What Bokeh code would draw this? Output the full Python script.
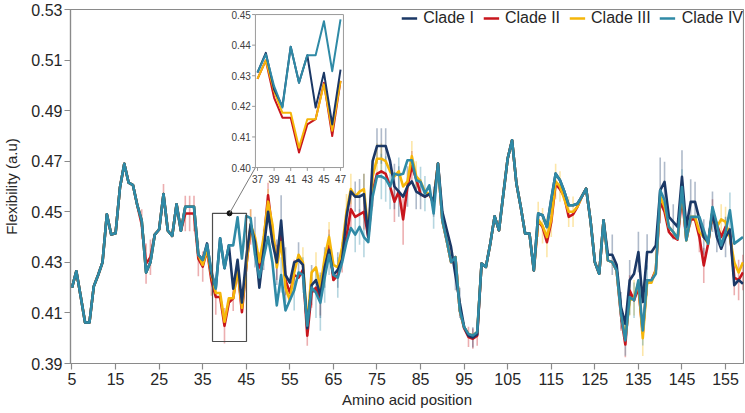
from bokeh.plotting import figure
from bokeh.models import Range1d, FixedTicker, PrintfTickFormatter, Legend, LegendItem
from bokeh.embed import file_html
from bokeh.resources import INLINE
from bokeh.core.properties import value

positions = list(range(5, 160))

clade_iv = [
    0.4200, 0.4265, 0.4165, 0.4062, 0.4062, 0.4205, 0.4250, 0.4300, 0.4490, 0.4410,  # 5-14
    0.4415, 0.4595, 0.4690, 0.4615, 0.4605, 0.4525, 0.4465, 0.4260, 0.4300, 0.4410,  # 15-24
    0.4430, 0.4570, 0.4425, 0.4405, 0.4530, 0.4425, 0.4520, 0.4520, 0.4520, 0.4330,  # 25-34
    0.4310, 0.4370, 0.4266, 0.4196, 0.4395, 0.4277, 0.4367, 0.4367, 0.4478, 0.4315,  # 35-44
    0.4484, 0.4475, 0.4330, 0.4240, 0.4320, 0.4400, 0.4300, 0.4130, 0.4250, 0.4110,  # 45-54
    0.4150, 0.4190, 0.4260, 0.4250, 0.4050, 0.4200, 0.4180, 0.4140, 0.4240, 0.4330,  # 55-64
    0.4250, 0.4240, 0.4300, 0.4380, 0.4436, 0.4410, 0.4440, 0.4400, 0.4380, 0.4560,  # 65-74
    0.4640, 0.4640, 0.4630, 0.4600, 0.4651, 0.4645, 0.4650, 0.4704, 0.4704, 0.4625,  # 75-84
    0.4618, 0.4572, 0.4605, 0.4493, 0.4691, 0.4466, 0.4387, 0.4301, 0.4321, 0.4110,  # 85-94
    0.4044, 0.4017, 0.4011, 0.4024, 0.4295, 0.4282, 0.4374, 0.4482, 0.4427, 0.4570,  # 95-104
    0.4711, 0.4783, 0.4612, 0.4519, 0.4414, 0.4414, 0.4268, 0.4493, 0.4486, 0.4440,  # 105-114
    0.4550, 0.4651, 0.4625, 0.4580, 0.4526, 0.4526, 0.4532, 0.4560, 0.4592, 0.4466,  # 115-124
    0.4301, 0.4255, 0.4466, 0.4308, 0.4301, 0.4268, 0.4097, 0.3991, 0.4163, 0.4150,  # 125-134
    0.4229, 0.4031, 0.4229, 0.4229, 0.4255, 0.4585, 0.4546, 0.4440, 0.4420, 0.4394,  # 135-144
    0.4598, 0.4387, 0.4480, 0.4480, 0.4480, 0.4427, 0.4374, 0.4519, 0.4453, 0.4367,  # 145-154
    0.4420, 0.4506, 0.4374, 0.4387, 0.4400,                                          # 155-159
]

clade_i = [
    0.4200, 0.4265, 0.4165, 0.4062, 0.4062, 0.4205, 0.4250, 0.4300, 0.4490, 0.4410,
    0.4415, 0.4595, 0.4690, 0.4615, 0.4605, 0.4525, 0.4465, 0.4260, 0.4300, 0.4410,
    0.4430, 0.4570, 0.4425, 0.4405, 0.4530, 0.4425, 0.4520, 0.4520, 0.4520, 0.4330,
    0.4310, 0.4375, 0.4255, 0.4200, 0.4395, 0.4277, 0.4367, 0.4196, 0.4310, 0.4141,
    0.4320, 0.4450, 0.4380, 0.4200, 0.4350, 0.4500, 0.4380, 0.4300, 0.4465, 0.4250,
    0.4220, 0.4300, 0.4310, 0.4290, 0.4040, 0.4210, 0.4230, 0.4170, 0.4280, 0.4350,
    0.4250, 0.4270, 0.4310, 0.4480, 0.4580, 0.4560, 0.4560, 0.4570, 0.4400, 0.4700,
    0.4760, 0.4760, 0.4760, 0.4700, 0.4600, 0.4580, 0.4560, 0.4600, 0.4620, 0.4580,
    0.4570, 0.4560, 0.4570, 0.4540, 0.4691, 0.4500, 0.4430, 0.4360, 0.4250, 0.4140,
    0.4044, 0.4010, 0.4003, 0.4015, 0.4295, 0.4282, 0.4374, 0.4482, 0.4427, 0.4570,
    0.4711, 0.4783, 0.4612, 0.4519, 0.4414, 0.4414, 0.4268, 0.4493, 0.4486, 0.4440,
    0.4550, 0.4651, 0.4625, 0.4580, 0.4526, 0.4526, 0.4532, 0.4560, 0.4592, 0.4466,
    0.4301, 0.4255, 0.4466, 0.4330, 0.4330, 0.4290, 0.4123, 0.4057, 0.4229, 0.4255,
    0.4341, 0.4143, 0.4341, 0.4341, 0.4367, 0.4585, 0.4618, 0.4480, 0.4460, 0.4440,
    0.4638, 0.4440, 0.4539, 0.4539, 0.4470, 0.4400, 0.4380, 0.4500, 0.4400, 0.4354,
    0.4400, 0.4430, 0.4210, 0.4230, 0.4215,
]

clade_ii = [
    0.4200, 0.4265, 0.4165, 0.4062, 0.4062, 0.4205, 0.4250, 0.4300, 0.4490, 0.4410,
    0.4415, 0.4595, 0.4690, 0.4615, 0.4605, 0.4525, 0.4450, 0.4295, 0.4320, 0.4410,
    0.4430, 0.4570, 0.4425, 0.4405, 0.4530, 0.4425, 0.4493, 0.4493, 0.4493, 0.4315,
    0.4283, 0.4348, 0.4228, 0.4163, 0.4163, 0.4049, 0.4141, 0.4158, 0.4277, 0.4103,
    0.4283, 0.4440, 0.4370, 0.4280, 0.4380, 0.4565, 0.4420, 0.4300, 0.4430, 0.4230,
    0.4180, 0.4250, 0.4240, 0.4270, 0.4010, 0.4180, 0.4200, 0.4150, 0.4300, 0.4370,
    0.4230, 0.4250, 0.4320, 0.4400, 0.4510, 0.4480, 0.4490, 0.4500, 0.4400, 0.4580,
    0.4650, 0.4660, 0.4650, 0.4600, 0.4540, 0.4580, 0.4470, 0.4600, 0.4680, 0.4630,
    0.4570, 0.4560, 0.4570, 0.4530, 0.4691, 0.4466, 0.4387, 0.4301, 0.4321, 0.4110,
    0.4040, 0.4005, 0.3998, 0.4010, 0.4295, 0.4282, 0.4374, 0.4482, 0.4427, 0.4570,
    0.4711, 0.4783, 0.4612, 0.4519, 0.4414, 0.4414, 0.4268, 0.4465, 0.4440, 0.4380,
    0.4460, 0.4610, 0.4590, 0.4560, 0.4480, 0.4490, 0.4520, 0.4560, 0.4592, 0.4466,
    0.4301, 0.4255, 0.4466, 0.4308, 0.4301, 0.4268, 0.4090, 0.3975, 0.4189, 0.4150,
    0.4200, 0.4020, 0.4229, 0.4229, 0.4270, 0.4540, 0.4500, 0.4420, 0.4400, 0.4390,
    0.4560, 0.4390, 0.4470, 0.4470, 0.4400, 0.4288, 0.4374, 0.4500, 0.4450, 0.4400,
    0.4440, 0.4420, 0.4240, 0.4230, 0.4260,
]

clade_iii = [
    0.4200, 0.4265, 0.4165, 0.4062, 0.4062, 0.4205, 0.4250, 0.4300, 0.4490, 0.4410,
    0.4415, 0.4595, 0.4690, 0.4615, 0.4605, 0.4525, 0.4465, 0.4260, 0.4300, 0.4410,
    0.4430, 0.4570, 0.4425, 0.4405, 0.4530, 0.4425, 0.4520, 0.4520, 0.4520, 0.4330,
    0.4290, 0.4350, 0.4250, 0.4179, 0.4179, 0.4065, 0.4158, 0.4158, 0.4272, 0.4120,
    0.4283, 0.4450, 0.4400, 0.4300, 0.4400, 0.4540, 0.4450, 0.4280, 0.4380, 0.4200,
    0.4150, 0.4260, 0.4330, 0.4300, 0.4050, 0.4260, 0.4280, 0.4200, 0.4320, 0.4400,
    0.4290, 0.4280, 0.4360, 0.4500, 0.4590, 0.4560, 0.4580, 0.4590, 0.4420, 0.4640,
    0.4710, 0.4710, 0.4700, 0.4660, 0.4640, 0.4660, 0.4600, 0.4620, 0.4720, 0.4640,
    0.4620, 0.4580, 0.4570, 0.4540, 0.4691, 0.4466, 0.4387, 0.4301, 0.4321, 0.4110,
    0.4044, 0.4017, 0.4011, 0.4024, 0.4295, 0.4282, 0.4374, 0.4482, 0.4427, 0.4570,
    0.4711, 0.4783, 0.4612, 0.4519, 0.4414, 0.4414, 0.4268, 0.4470, 0.4445, 0.4400,
    0.4470, 0.4620, 0.4600, 0.4550, 0.4500, 0.4500, 0.4520, 0.4560, 0.4592, 0.4466,
    0.4301, 0.4255, 0.4466, 0.4308, 0.4301, 0.4268, 0.4100, 0.4000, 0.4150, 0.4160,
    0.4220, 0.4000, 0.4220, 0.4220, 0.4270, 0.4560, 0.4520, 0.4440, 0.4420, 0.4394,
    0.4598, 0.4387, 0.4480, 0.4480, 0.4420, 0.4400, 0.4374, 0.4500, 0.4440, 0.4470,
    0.4460, 0.4400, 0.4300, 0.4260, 0.4300,
]

# error bars: positions and half-lengths (sparse)
err_i_pos = [47, 49, 52, 53, 54, 57, 60, 62, 63, 66, 70, 71, 72, 75, 76, 77, 79, 80, 82, 84,
             85, 88, 93, 94, 97, 129, 131, 133, 135, 137, 140, 141, 143, 145, 147, 148, 150, 152, 153, 155]
err_i_half = [0.010, 0.008, 0.009, 0.010, 0.011, 0.007, 0.008, 0.009, 0.008, 0.007, 0.006, 0.007,
              0.008, 0.007, 0.007, 0.007, 0.009, 0.010, 0.008, 0.007, 0.006, 0.006, 0.006, 0.006,
              0.004, 0.008, 0.006, 0.008, 0.008, 0.007, 0.013, 0.008, 0.007, 0.0105, 0.009, 0.008,
              0.007, 0.008, 0.006, 0.008]
err_ii_pos = [21, 22, 23, 26, 31, 32, 33, 34, 35, 37, 38, 40, 42, 46, 48, 50, 52, 54, 56, 59, 60,
              62, 64, 67, 69, 72, 74, 79, 81, 83, 96, 97, 98, 131, 132, 133, 149, 150, 152, 157, 158, 159]
err_ii_half = [0.006, 0.008, 0.007, 0.004, 0.007, 0.007, 0.007, 0.007, 0.006, 0.006, 0.007, 0.007,
               0.005, 0.007, 0.006, 0.005, 0.007, 0.006, 0.006, 0.004, 0.006, 0.006, 0.006, 0.006,
               0.008, 0.007, 0.006, 0.008, 0.010, 0.006, 0.004, 0.004, 0.004, 0.006, 0.005, 0.006,
               0.006, 0.007, 0.005, 0.007, 0.008, 0.007]
err_iii_pos = [46, 50, 58, 61, 64, 68, 69, 72, 75, 76, 83, 84, 112, 113, 114, 115, 116, 117, 119,
               120, 133, 134, 136, 154, 155]
err_iii_half = [0.006, 0.005, 0.006, 0.006, 0.006, 0.007, 0.006, 0.006, 0.006, 0.006, 0.006, 0.006,
                0.007, 0.007, 0.008, 0.007, 0.007, 0.006, 0.006, 0.006, 0.006, 0.007, 0.007, 0.006, 0.006]
err_iv_pos = [53, 56, 58, 61, 62, 63, 64, 66, 70, 71, 72, 76, 77, 78, 80, 85, 86, 88, 131, 132, 133,
              134, 136, 137, 145, 156]
err_iv_half = [0.007, 0.008, 0.007, 0.010, 0.011, 0.010, 0.008, 0.008, 0.007, 0.007, 0.008, 0.009,
               0.009, 0.009, 0.007, 0.006, 0.007, 0.006, 0.006, 0.006, 0.007, 0.007, 0.006, 0.006,
               0.007, 0.007]

# inset (zoomed view)
inset_positions = [37, 38, 39, 40, 41, 42, 43, 44, 45, 46, 47]
inset_i = [0.4310, 0.4375, 0.4255, 0.4200, 0.4395, 0.4277, 0.4367, 0.4196, 0.4310, 0.4141, 0.4320]
inset_ii = [0.4290, 0.4350, 0.4228, 0.4163, 0.4163, 0.4049, 0.4141, 0.4158, 0.4277, 0.4103, 0.4283]
inset_iii = [0.4290, 0.4350, 0.4250, 0.4179, 0.4179, 0.4065, 0.4158, 0.4158, 0.4272, 0.4120, 0.4283]
inset_iv = [0.4311, 0.4370, 0.4266, 0.4196, 0.4395, 0.4277, 0.4367, 0.4367, 0.4478, 0.4315, 0.4484]
inset_xticks = [37, 39, 41, 43, 45, 47]
inset_yticks = [0.40, 0.41, 0.42, 0.43, 0.44, 0.45]

x_ticks = [5, 15, 25, 35, 45, 55, 65, 75, 85, 95, 105, 115, 125, 135, 145, 155]
y_ticks = [0.39, 0.41, 0.43, 0.45, 0.47, 0.49, 0.51, 0.53]

labels = ["Clade I", "Clade II", "Clade III", "Clade IV"]
colors = {"Clade I": "#1b3866", "Clade II": "#c8161d", "Clade III": "#f5b60a", "Clade IV": "#2f8aa6"}

FONT = "Liberation Sans"
AXIS_GRAY = "#8a8a8a"

p = figure(frame_width=673, frame_height=354,
           x_range=Range1d(4.656, 159.12), y_range=Range1d(0.39, 0.53),
           output_backend="svg", toolbar_location=None,
           min_border_left=70, min_border_right=1, min_border_top=9, min_border_bottom=49)
p.xgrid.visible = False
p.ygrid.visible = False
p.outline_line_color = AXIS_GRAY
p.outline_line_width = 1.2
p.background_fill_color = "white"
p.border_fill_color = "white"

for ax in (p.xaxis[0], p.yaxis[0]):
    ax.axis_line_color = AXIS_GRAY
    ax.axis_line_width = 1.2
    ax.major_tick_line_color = AXIS_GRAY
    ax.major_tick_line_width = 1.2
    ax.major_tick_out = 6
    ax.major_tick_in = 0
    ax.minor_tick_line_color = None
    ax.major_label_text_font = FONT
    ax.major_label_text_font_size = "16px"
    ax.major_label_text_color = "#262626"
    ax.axis_label_text_font = FONT
    ax.axis_label_text_font_size = "15px"
    ax.axis_label_text_font_style = "normal"
    ax.axis_label_text_color = "#262626"

p.xaxis.ticker = FixedTicker(ticks=x_ticks)
p.yaxis.ticker = FixedTicker(ticks=y_ticks)
p.yaxis.formatter = PrintfTickFormatter(format="%.2f")
p.xaxis.axis_label = "Amino acid position"
p.yaxis.axis_label = "Flexibility (a.u)"
p.xaxis.major_label_standoff = 3
p.xaxis.axis_label_standoff = 3
p.yaxis.major_label_standoff = 2
p.yaxis.axis_label_standoff = 8

series = {"Clade I": clade_i, "Clade II": clade_ii, "Clade III": clade_iii, "Clade IV": clade_iv}
errors = {"Clade I": (err_i_pos, err_i_half), "Clade II": (err_ii_pos, err_ii_half),
          "Clade III": (err_iii_pos, err_iii_half), "Clade IV": (err_iv_pos, err_iv_half)}

# error bars first (pale, behind the lines)
for name in ["Clade II", "Clade III", "Clade I", "Clade IV"]:
    epos, ehalf = errors[name]
    centers = [series[name][positions.index(x)] for x in epos]
    p.segment(x0=epos, x1=epos,
              y0=[c - h for c, h in zip(centers, ehalf)],
              y1=[c + h for c, h in zip(centers, ehalf)],
              line_color=colors[name], line_alpha=0.35, line_width=1.6)

renderers = {}
for name in ["Clade II", "Clade III", "Clade I", "Clade IV"]:
    renderers[name] = p.line(positions, series[name], line_color=colors[name], line_width=2.6,
                             line_join="round")

legend = Legend(items=[LegendItem(label=n, renderers=[renderers[n]]) for n in labels],
                orientation="horizontal", location="top_right",
                label_text_font=FONT, label_text_font_size="16px", label_text_color="#262626",
                glyph_width=16, glyph_height=16, label_height=16, label_standoff=6, spacing=9,
                padding=2, margin=0, border_line_color=None, background_fill_alpha=0)
p.add_layout(legend)

# zoom box in the main plot and connector to the inset
box_x = (37.25, 45.05)
box_y = (0.3987, 0.4494)
p.quad(left=[box_x[0]], right=[box_x[1]], bottom=[box_y[0]], top=[box_y[1]],
       fill_color=None, line_color="#4d4d4d", line_width=1.2)
dot_x = 41.15
p.scatter([dot_x], [box_y[1]], size=5, color="#111111")

inset_target_x = (47.1, 67.3)
inset_target_y = (0.4675, 0.5280)
p.line([dot_x, inset_target_x[0]], [box_y[1], inset_target_y[0]], line_color="#7a7a7a", line_width=1)

inset_x_range = (36.75, 47.35)
inset_y_range = (0.40, 0.45)
inset = p.subplot(x_source=Range1d(*inset_x_range), y_source=Range1d(*inset_y_range),
                  x_target=Range1d(*inset_target_x), y_target=Range1d(*inset_target_y))
inset.quad(left=[inset_x_range[0]], right=[inset_x_range[1]],
           bottom=[inset_y_range[0]], top=[inset_y_range[1]],
           fill_color="white", line_color="#9a9a9a", line_width=1)
inset_series = {"Clade I": inset_i, "Clade II": inset_ii, "Clade III": inset_iii, "Clade IV": inset_iv}
for name in ["Clade II", "Clade III", "Clade I", "Clade IV"]:
    inset.line(inset_positions, inset_series[name], line_color=colors[name], line_width=2.0,
               line_join="round")

# inset axes
inset.segment(x0=[inset_x_range[0]] * len(inset_yticks), y0=inset_yticks,
              x1=[inset_x_range[0] - 0.4] * len(inset_yticks), y1=inset_yticks,
              line_color="#9a9a9a", line_width=1)
inset.text(x=[inset_x_range[0] - 0.55] * len(inset_yticks), y=inset_yticks,
           text=["%.2f" % t for t in inset_yticks], text_align="right", text_baseline="middle",
           text_font=value(FONT), text_font_size="10px", text_color="#404040")
inset.segment(x0=inset_xticks, y0=[inset_y_range[0]] * len(inset_xticks),
              x1=inset_xticks, y1=[inset_y_range[0] - 0.0011] * len(inset_xticks),
              line_color="#9a9a9a", line_width=1)
inset.text(x=inset_xticks, y=[inset_y_range[0] - 0.0037] * len(inset_xticks),
           text=[str(t) for t in inset_xticks], text_align="center", text_baseline="middle",
           text_font=value(FONT), text_font_size="10px", text_color="#404040")

open("out.html", "w").write(file_html(p, INLINE))
